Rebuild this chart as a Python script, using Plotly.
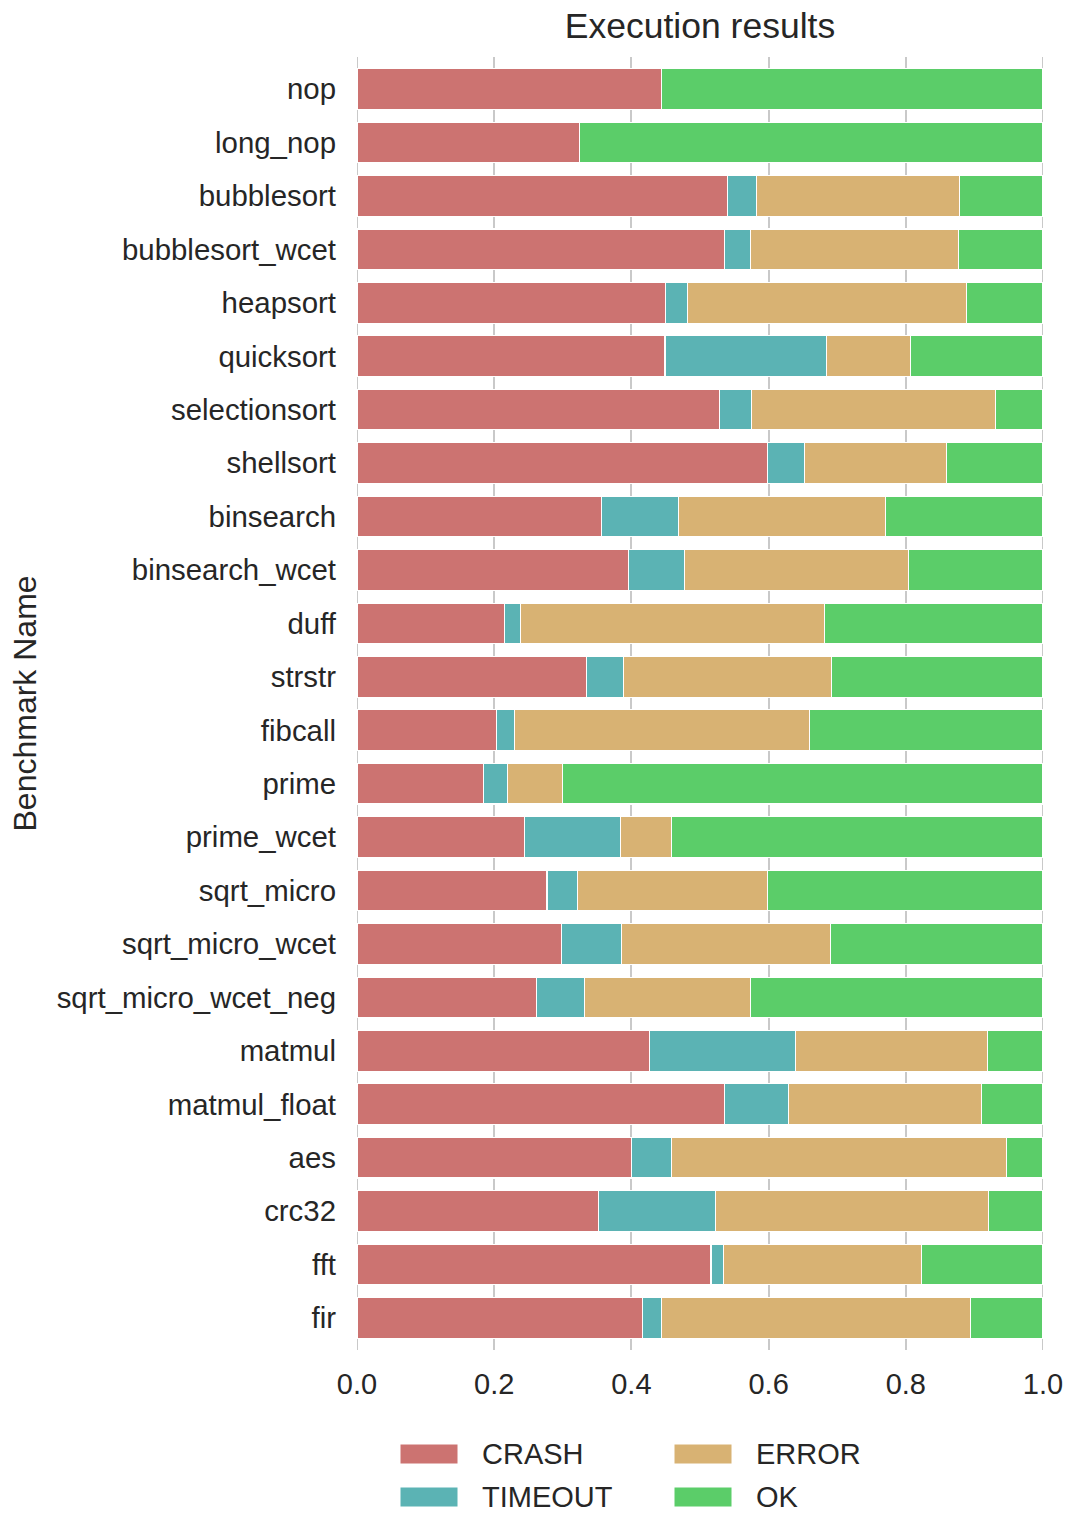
import plotly.graph_objects as go

# Benchmarks, top to bottom
benchmarks = [
    "nop", "long_nop", "bubblesort", "bubblesort_wcet", "heapsort", "quicksort",
    "selectionsort", "shellsort", "binsearch", "binsearch_wcet", "duff", "strstr",
    "fibcall", "prime", "prime_wcet", "sqrt_micro", "sqrt_micro_wcet",
    "sqrt_micro_wcet_neg", "matmul", "matmul_float", "aes", "crc32", "fft", "fir",
]

# Fraction of runs per outcome
crash = [0.444, 0.324, 0.540, 0.536, 0.450, 0.449, 0.529, 0.598, 0.357, 0.396,
         0.215, 0.335, 0.204, 0.184, 0.244, 0.277, 0.298, 0.262, 0.427, 0.536,
         0.400, 0.352, 0.516, 0.416]
timeout = [0.000, 0.000, 0.043, 0.037, 0.032, 0.236, 0.046, 0.054, 0.112, 0.081,
           0.023, 0.054, 0.025, 0.036, 0.140, 0.044, 0.087, 0.069, 0.212, 0.093,
           0.058, 0.171, 0.018, 0.028]
error = [0.000, 0.000, 0.295, 0.304, 0.407, 0.122, 0.356, 0.207, 0.301, 0.327,
         0.444, 0.303, 0.430, 0.080, 0.074, 0.277, 0.305, 0.242, 0.280, 0.281,
         0.489, 0.397, 0.289, 0.450]
ok = [round(1 - c - t - e, 3) for c, t, e in zip(crash, timeout, error)]

outcomes = ["CRASH", "TIMEOUT", "ERROR", "OK"]
colors = ["#CC7371", "#5BB3B4", "#D8B273", "#5BCD69"]
series = [crash, timeout, error, ok]

x_ticks = [0.0, 0.2, 0.4, 0.6, 0.8, 1.0]

FONT = "Liberation Sans, Arial, sans-serif"
TEXT = "#262626"
GRID = "#C9C9C9"
W, H = 1069, 1513
L, R, T, B = 357, 26, 57, 163
PW, PH = W - L - R, H - T - B

fig = go.Figure()
for name, col, vals in zip(outcomes, colors, series):
    fig.add_trace(go.Bar(
        y=benchmarks, x=vals, name=name, orientation="h",
        marker=dict(color=col, line=dict(color="white", width=1.1)),
        showlegend=False,
    ))

# grid lines at the range ends (plotly skips those)
for xv in (x_ticks[0], x_ticks[-1]):
    fig.add_shape(
        type="line", xref="x", yref="paper", x0=xv, x1=xv, y0=0, y1=1,
        line=dict(color=GRID, width=2), layer="below",
    )


def px_x(px):
    return (px - L) / PW


def px_y(py):
    return (H - B - py) / PH


# y-axis title
fig.add_annotation(
    x=px_x(24), y=0.5, xref="paper", yref="paper", text="Benchmark Name",
    textangle=-90, showarrow=False, xanchor="center", yanchor="middle",
    font=dict(family=FONT, size=32, color=TEXT),
)

# legend: two columns of wide swatches below the plot
legend_cols = [400, 674]
legend_rows = [1454, 1497]
for i, (name, col) in enumerate(zip(outcomes, colors)):
    cx = legend_cols[i // 2]
    cy = legend_rows[i % 2]
    fig.add_shape(
        type="rect", xref="paper", yref="paper",
        x0=px_x(cx), x1=px_x(cx + 58), y0=px_y(cy - 10), y1=px_y(cy + 10),
        fillcolor=col, line=dict(color="white", width=1),
    )
    fig.add_annotation(
        x=px_x(cx + 80), y=px_y(cy), xref="paper", yref="paper",
        text=name, showarrow=False, xanchor="left", yanchor="middle",
        font=dict(family=FONT, size=29, color=TEXT),
    )

fig.update_layout(
    barmode="stack",
    bargap=0.24,
    width=W, height=H,
    margin=dict(l=L, r=R, t=T, b=B, autoexpand=False),
    paper_bgcolor="white", plot_bgcolor="white",
    font=dict(family=FONT, size=29, color=TEXT),
    title=dict(
        text="Execution results", x=0.5, xref="paper", xanchor="center",
        y=1 - 26 / H, yref="container", yanchor="middle",
        font=dict(family=FONT, size=35.5, color=TEXT),
    ),
    xaxis=dict(
        range=[0, 1], tickvals=x_ticks, ticktext=[f"{v:.1f}" for v in x_ticks],
        showgrid=True, gridcolor=GRID, gridwidth=2, zeroline=False,
        showline=False, ticks="", ticklabelstandoff=14,
        tickfont=dict(family=FONT, size=29, color=TEXT),
    ),
    yaxis=dict(
        categoryorder="array", categoryarray=benchmarks,
        range=[len(benchmarks) - 0.4, -0.6],
        showgrid=False, zeroline=False, showline=False, ticks="",
        ticklabelstandoff=20,
        tickfont=dict(family=FONT, size=29.4, color=TEXT),
    ),
)

fig.write_html("out.html")
